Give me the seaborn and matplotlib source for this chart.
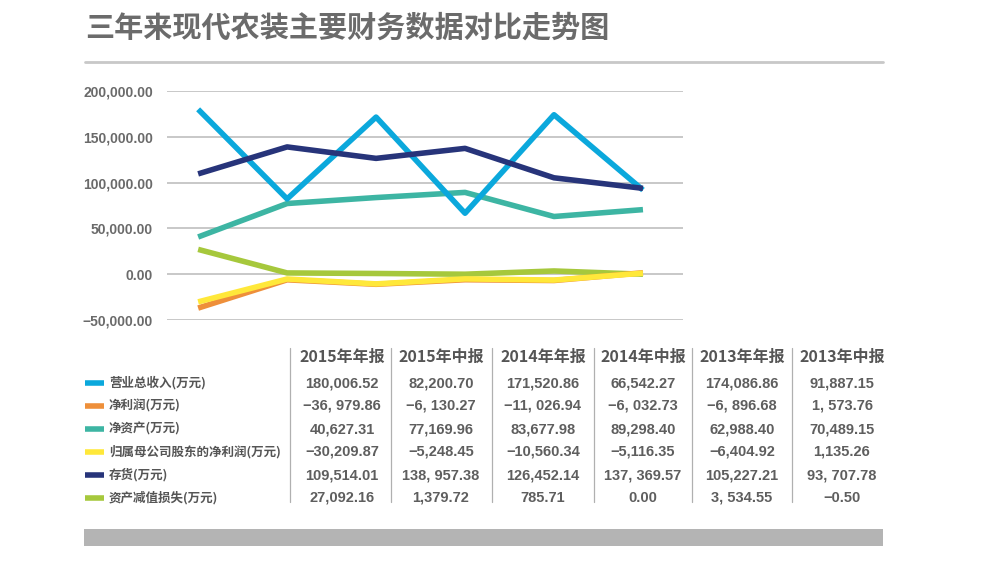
import matplotlib
matplotlib.use("Agg")
import matplotlib.pyplot as plt
from matplotlib.lines import Line2D
from matplotlib.patches import Rectangle
from matplotlib.ticker import FuncFormatter
import seaborn as sns
import pandas as pd

periods = ["2015年年报", "2015年中报", "2014年年报", "2014年中报", "2013年年报", "2013年中报"]
series_names = ["营业总收入(万元)", "净利润(万元)", "净资产(万元)",
                "归属母公司股东的净利润(万元)", "存货(万元)", "资产减值损失(万元)"]
revenue = [180006.52, 82200.70, 171520.86, 66542.27, 174086.86, 91887.15]
net_profit = [-36979.86, -6130.27, -11026.94, -6032.73, -6896.68, 1573.76]
net_assets = [40627.31, 77169.96, 83677.98, 89298.40, 62988.40, 70489.15]
parent_profit = [-30209.87, -5248.45, -10560.34, -5116.35, -6404.92, 1135.26]
inventory = [109514.01, 138957.38, 126452.14, 137369.57, 105227.21, 93707.78]
impairment = [27092.16, 1379.72, 785.71, 0.00, 3534.55, -0.50]
table_text = [
    ["180,006.52", "82,200.70", "171,520.86", "66,542.27", "174,086.86", "91,887.15"],
    ["−36, 979.86", "−6, 130.27", "−11, 026.94", "−6, 032.73", "−6, 896.68", "1, 573.76"],
    ["40,627.31", "77,169.96", "83,677.98", "89,298.40", "62,988.40", "70,489.15"],
    ["−30,209.87", "−5,248.45", "−10,560.34", "−5,116.35", "−6,404.92", "1,135.26"],
    ["109,514.01", "138, 957.38", "126,452.14", "137, 369.57", "105,227.21", "93, 707.78"],
    ["27,092.16", "1,379.72", "785.71", "0.00", "3, 534.55", "−0.50"],
]
colors = ["#0ba8dc", "#ee8f3a", "#3db5a3", "#ffe83a", "#27347a", "#a6c83c"]

sns.set_theme(style="white")
plt.rcParams['font.family'] = ['Noto Sans CJK SC', 'DejaVu Sans']
plt.rcParams['axes.unicode_minus'] = True
num_font = ['Liberation Sans', 'DejaVu Sans']

values = [revenue, net_profit, net_assets, parent_profit, inventory, impairment]
rows = []
for name, vals in zip(series_names, values):
    for i, v in enumerate(vals):
        rows.append({"x": i, "value": v, "series": name})
df = pd.DataFrame(rows)

fig = plt.figure(figsize=(9.94, 5.8), dpi=100)
ax = fig.add_axes([167/994, 260/580, 516/994, 229/580])

draw_order = [series_names[i] for i in [5, 1, 3, 2, 0, 4]]
pal = dict(zip(series_names, colors))
for name in draw_order:
    sub = df[df["series"] == name]
    sns.lineplot(data=sub, x="x", y="value", color=pal[name], lw=4.0,
                 ax=ax, legend=False, solid_capstyle="butt")

ax.set_xlim(-0.35, 5.45)
ax.set_ylim(-50000, 200000)
ax.set_yticks([-50000, 0, 50000, 100000, 150000, 200000])
ax.yaxis.set_major_formatter(FuncFormatter(lambda v, p: ("−" if v < 0 else "") + f"{abs(v):,.2f}"))
ax.set_xticks([])
ax.set_xlabel("")
ax.set_ylabel("")
ax.grid(axis="y", color="#c4c4c4", lw=1.3)
ax.set_axisbelow(True)
for s in ax.spines.values():
    s.set_visible(False)
ax.tick_params(axis="y", length=0, pad=10, labelsize=10, labelcolor="#6a6a6a")
for t in ax.get_yticklabels():
    t.set_fontweight("bold")
    t.set_family(num_font)

# title and decoration
fig.text(85/994, 1 - 28/580, "三年来现代农装主要财务数据对比走势图", fontsize=21,
         fontweight="heavy", color="#6b6b6b", va="center", ha="left")
fig.add_artist(Line2D([85/994, 883/994], [1 - 62/580, 1 - 62/580], color="#c8c8c8", lw=2))
fig.add_artist(Rectangle((84/994, 1 - 546/580), (883 - 84)/994, 17/580,
                         facecolor="#b4b4b4", edgecolor="none"))

# data table
col_x = [342, 441, 543, 643, 742, 842]
sep_x = [290, 391, 492, 594, 692, 792]
header_y = 357
row_y = [383, 406, 429, 452, 475, 498]
for sx in sep_x:
    fig.add_artist(Line2D([sx/994, sx/994], [1 - 348/580, 1 - 502/580], color="#b0b0b0", lw=0.9))
for cx, p in zip(col_x, periods):
    fig.text(cx/994, 1 - header_y/580, p, fontsize=11.5, fontweight="bold",
             color="#555555", ha="center", va="center")
for r, (name, c) in enumerate(zip(series_names, colors)):
    y = 1 - row_y[r]/580
    fig.add_artist(Line2D([85/994, 104/994], [y, y], color=c, lw=4, solid_capstyle="butt"))
    fig.text(109/994, y, name, fontsize=9, color="#555555", ha="left", va="center",
             fontweight="bold")
    for cx, s in zip(col_x, table_text[r]):
        fig.text(cx/994, y, s, fontsize=10.5, color="#5e5e5e", ha="center", va="center",
                 fontweight="bold", family=num_font)

fig.savefig("out.png", dpi=100, facecolor="white")
